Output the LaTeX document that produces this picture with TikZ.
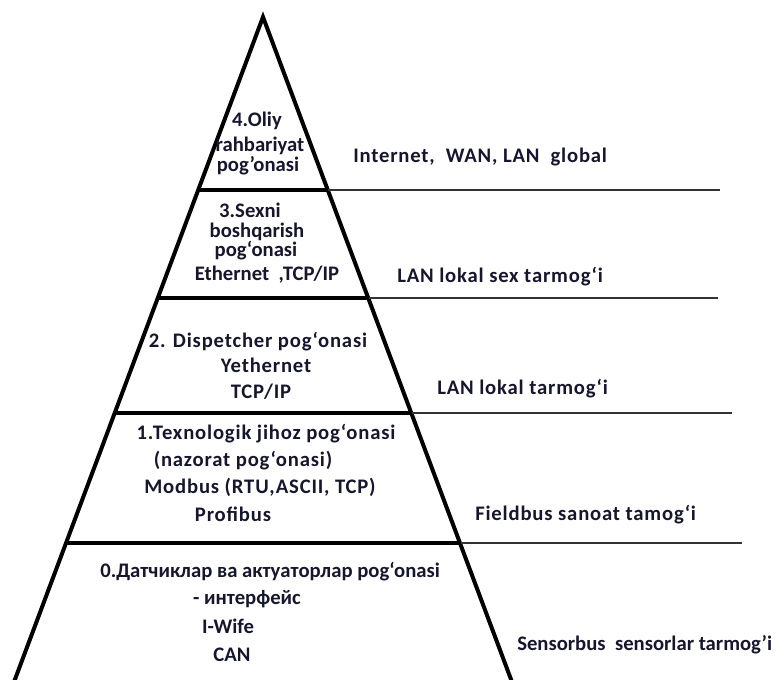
\documentclass[tikz,border=0pt]{standalone}
\usepackage{fontspec}
\setmainfont{Carlito}
\usepackage{tikz}
\definecolor{inkdark}{RGB}{22,22,45}
\tikzset{
  edgeline/.style={line width=3pt, line join=miter},
  bandline/.style={line width=3pt},
  guideline/.style={line width=0.9pt, black!80},
  leveltxt/.style={font=\fontsize{15.5}{18}\selectfont\bfseries, inner sep=0pt, anchor=base, text=inkdark},
  widetxt/.style={leveltxt, font=\fontsize{15.5}{18}\selectfont\bfseries\addfontfeature{LetterSpace=4}},
  nettxt/.style={widetxt, anchor=base west}
}
\begin{document}
\begin{tikzpicture}[x=0.75pt, y=-0.75pt]
  \useasboundingbox (0,0) rectangle (776,680);
  % pyramid outline
  \coordinate (apex) at (263,17);
  \draw[edgeline] (14,682) -- (apex) -- (512,682);
  % level borders and guide lines
  \foreach \y/\xe in {190/720, 298/718, 413/732, 543/742}{
    \pgfmathsetmacro\dx{0.3756*(\y-17)}
    \draw[bandline] (263-\dx,\y) -- (263+\dx,\y);
    \draw[guideline] (263+\dx,\y) -- (\xe,\y);
  }
  % level 4
  \node[leveltxt] (oliy) at (257,127) {4.Oliy};
  \node[leveltxt] (rahbar) at (260,152) {rahbariyat};
  \node[leveltxt] (pogfour) at (258,172) {pog'onasi};
  \node[nettxt] (global) at (353,163) {Internet,\ \ WAN,~LAN\ \ global};
  % level 3
  \node[leveltxt] (sexni) at (250,218) {3.Sexni};
  \node[leveltxt] (boshq) at (257,238) {boshqarish};
  \node[leveltxt] (pogthree) at (256,257) {pog‘onasi};
  \node[leveltxt] (ether) at (267,281) {Ethernet\ \ ,TCP/IP};
  \node[nettxt] (lansex) at (397,283) {LAN lokal sex tarmog‘i};
  % level 2
  \node[widetxt] (disp) at (258,348) {2. Dispetcher pog‘onasi};
  \node[widetxt] (yether) at (266,373) {Yethernet};
  \node[widetxt] (tcpip) at (261,399) {TCP/IP};
  \node[nettxt] (lanlok) at (437,395) {LAN lokal tarmog‘i};
  % level 1
  \node[widetxt] (texno) at (266,440) {1.Texnologik jihoz pog‘onasi};
  \node[widetxt] (nazorat) at (243,467) {(nazorat pog‘onasi)};
  \node[widetxt] (modbus) at (260,494) {Modbus (RTU,ASCII, TCP)};
  \node[widetxt] (profi) at (233,522) {Profibus};
  \node[nettxt] (field) at (475,521) {Fieldbus sanoat tamog‘i};
  % level 0
  \node[leveltxt] (datch) at (270,578) {0.Датчиклар ва актуаторлар pog‘onasi};
  \node[leveltxt] (inter) at (247,605) {- интерфейс};
  \node[leveltxt] (iwife) at (228,634) {I-Wife};
  \node[leveltxt] (can) at (232,662) {CAN};
  \node[leveltxt, anchor=base west] (sensor) at (517,651) {Sensorbus\ \ sensorlar tarmog'i};
\end{tikzpicture}
\end{document}
